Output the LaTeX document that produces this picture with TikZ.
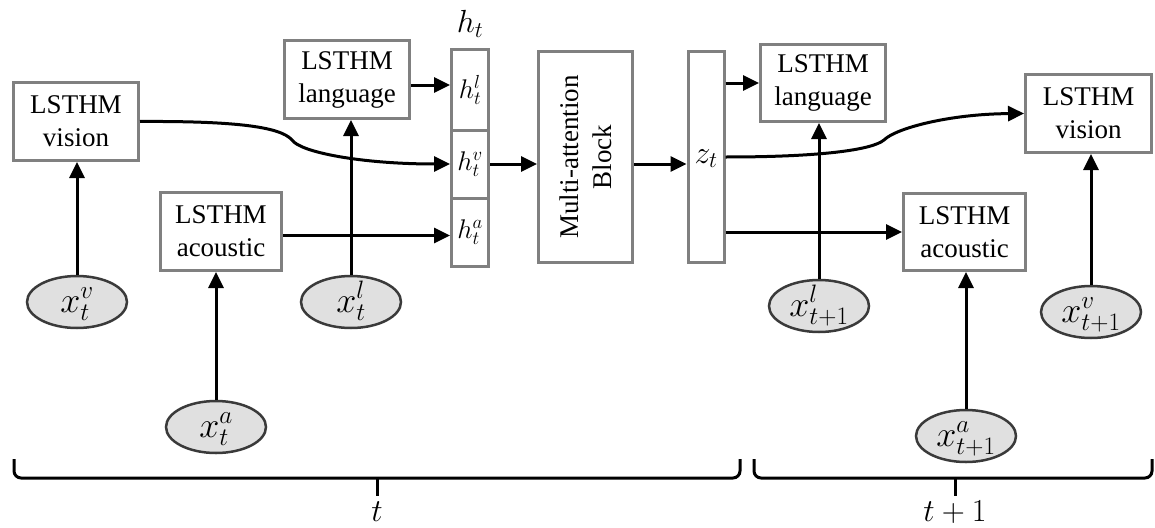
\RequirePackage{fix-cm}
\documentclass[tikz,border=0pt]{standalone}
\usepackage{fontspec}
\setmainfont{Liberation Serif}
\usetikzlibrary{arrows.meta,calc,shapes.geometric}
\definecolor{boxgray}{HTML}{808080}
\definecolor{ellfill}{HTML}{E0E0E0}
\definecolor{elldraw}{HTML}{3A3A3A}
\tikzset{
 lbox/.style={draw=boxgray, line width=3pt, fill=white, align=center, inner sep=0pt, font=\fontsize{27}{33}\selectfont},
 hcell/.style={draw=boxgray, line width=3pt, fill=white, inner sep=0pt, minimum width=37pt, font=\fontsize{27}{30}\selectfont},
 xin/.style={ellipse, draw=elldraw, line width=2.5pt, fill=ellfill, minimum width=100pt, minimum height=52pt, inner sep=0pt, text height=24pt, text depth=4pt, font=\fontsize{36}{40}\selectfont},
 arr/.style={line width=3pt, -{Triangle[length=16pt,width=15pt]}},
 brc/.style={line width=3pt, rounded corners=7pt},
 big/.style={font=\fontsize{32}{36}\selectfont},
}
\begin{document}
\begin{tikzpicture}[x=1pt,y=-1pt]
\useasboundingbox (0,0) rectangle (1155,527);
% time t
\node[lbox, minimum width=125pt, minimum height=78pt] (vis) at (76,121.5) {LSTHM\\vision};
\node[lbox, minimum width=125pt, minimum height=78pt] (lan) at (347,79.5) {LSTHM\\language};
\node[lbox, minimum width=121pt, minimum height=78pt] (aco) at (221,231.5) {LSTHM\\acoustic};
\node[hcell, minimum height=80pt] (hl) at (470,90) {$h_t^l$};
\node[hcell, minimum height=68pt] (hv) at (470,164) {$h_t^v$};
\node[hcell, minimum height=68pt] (ha) at (470,232) {$h_t^a$};
\node[big] (ht) at (470,24) {$h_t$};
\node[lbox, minimum width=94pt, minimum height=211pt] (mab) at (585.5,157) {};
\node[rotate=90, align=center, font=\fontsize{27}{33}\selectfont] (mabt) at (mab.center) {Multi-attention\\Block};
\node[lbox, minimum width=36pt, minimum height=211pt, big, text height=16pt, text depth=4pt] (z) at (706,157) {$z_t$};
% time t+1
\node[lbox, minimum width=125pt, minimum height=77pt] (lan1) at (823,83) {LSTHM\\language};
\node[lbox, minimum width=126pt, minimum height=78pt] (vis1) at (1088.5,113.5) {LSTHM\\vision};
\node[lbox, minimum width=122pt, minimum height=77pt] (aco1) at (964.5,232) {LSTHM\\acoustic};
% inputs
\node[xin] (xtv) at (77,302) {$x_t^v$};
\node[xin] (xtl) at (351,302) {$x_t^l$};
\node[xin] (xta) at (216,427) {$x_t^a$};
\node[xin] (xt1l) at (819,306) {$x_{t+1}^l$};
\node[xin] (xt1v) at (1091,312) {$x_{t+1}^v$};
\node[xin] (xt1a) at (966,436) {$x_{t+1}^a$};
% input arrows
\draw[arr] (xtv.north) -- (xtv.north |- vis.south);
\draw[arr] (xtl.north) -- (xtl.north |- lan.south);
\draw[arr] (xta.north) -- (xta.north |- aco.south);
\draw[arr] (xt1l.north) -- (xt1l.north |- lan1.south);
\draw[arr] (xt1v.north) -- (xt1v.north |- vis1.south);
\draw[arr] (xt1a.north) -- (xt1a.north |- aco1.south);
% to h_t
\draw[arr] ($(lan.east)+(0,5.5)$) -- ($(hl.west)+(0,-5)$);
\draw[arr] ($(aco.east)+(0,4)$) -- ($(aco.east -| ha.west)+(0,4)$);
\draw[arr] (vis.east) .. controls (230,121) and (280,126) .. (292,140) .. controls (300,152) and (360,164) .. (hv.west);
% through attention
\draw[arr] (hv.east) -- (hv.east -| mab.west);
\draw[arr] (mab.east |- hv.east) -- (z.west |- hv.east);
% from z_t
\draw[arr] (lan1.west -| z.east) -- (lan1.west);
\draw[arr] (aco1.west -| z.east) -- (aco1.west);
\draw[arr] (z.east) .. controls (820,157) and (872,150) .. (884,140) .. controls (896,128) and (950,114) .. (vis1.west);
% braces
\coordinate (b1l) at (14,459);
\coordinate (b1r) at (740,459);
\coordinate (b1m) at (377,478);
\draw[brc] (b1l) -- (14,478) -- (740,478) -- (b1r);
\draw[line width=3pt] (b1m) -- (377,496);
\node[big] (tl) at (377,512) {$t$};
\coordinate (b2l) at (754,459);
\coordinate (b2r) at (1152,459);
\coordinate (b2m) at (955,478);
\draw[brc] (b2l) -- (754,478) -- (1152,478) -- (b2r);
\draw[line width=3pt] (b2m) -- (955,496);
\node[big] (t1l) at (955,512) {$t+1$};
\end{tikzpicture}
\end{document}
